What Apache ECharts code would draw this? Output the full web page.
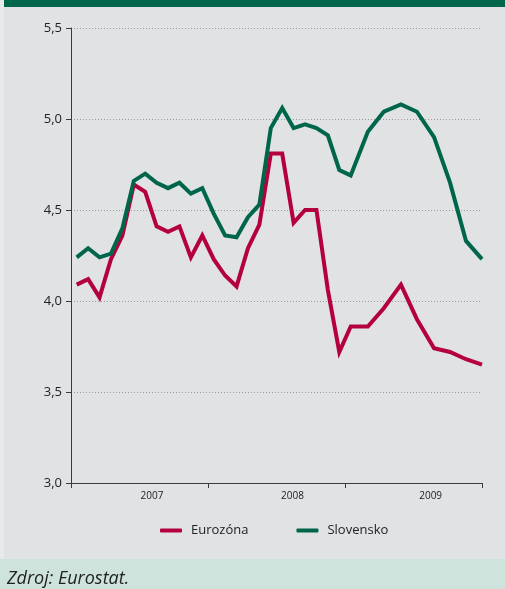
<!DOCTYPE html>
<html>
<head>
<meta charset="utf-8">
<script src="https://cdn.jsdelivr.net/npm/echarts@6/dist/echarts.min.js"></script>
<style>
html, body { margin: 0; padding: 0; background: #e1e2e4; }
#chart { width: 505px; height: 589px; }
</style>
</head>
<body>
<div id="chart"></div>
<script>
var years = ['2007', '2008', '2009'];
var yTicks = [3.0, 3.5, 4.0, 4.5, 5.0, 5.5];
// position of each value in months from Jan 2007 (2009 points are spread wider)
var months = [0.5, 1.5, 2.5, 3.5, 4.5, 5.5, 6.5, 7.5, 8.5, 9.5, 10.5, 11.5,
  12.5, 13.5, 14.5, 15.5, 16.5, 17.5, 18.5, 19.5, 20.5, 21.5, 22.5, 23.5,
  24.5, 26.0, 27.4, 28.9, 30.3, 31.8, 33.2, 34.6, 36.0];
var eurozone = [4.09, 4.12, 4.02, 4.23, 4.36, 4.64, 4.60, 4.41, 4.38, 4.41, 4.24, 4.36,
  4.23, 4.14, 4.08, 4.29, 4.42, 4.81, 4.81, 4.43, 4.50, 4.50, 4.06, 3.72,
  3.86, 3.86, 3.96, 4.09, 3.90, 3.74, 3.72, 3.68, 3.65];
var slovakia = [4.24, 4.29, 4.24, 4.26, 4.40, 4.66, 4.70, 4.65, 4.62, 4.65, 4.59, 4.62,
  4.48, 4.36, 4.35, 4.46, 4.53, 4.95, 5.06, 4.95, 4.97, 4.95, 4.91, 4.72,
  4.69, 4.93, 5.04, 5.08, 5.04, 4.90, 4.65, 4.33, 4.23];

var chartDom = document.getElementById('chart');
var myChart = echarts.init(chartDom);

function pairs(values) {
  return months.map(function (m, i) { return [m, values[i]]; });
}

var axisColor = '#3a3a3a';
var font = '"Open Sans", "Noto Sans", sans-serif';

var option = {
  animation: false,
  backgroundColor: '#e1e2e4',
  grid: { left: 71, right: 23, top: 28, bottom: 106 },
  legend: {
    left: 160,
    top: 524,
    padding: 0,
    itemGap: 48,
    itemWidth: 22,
    itemHeight: 4,
    icon: 'roundRect',
    textStyle: { fontFamily: font, fontSize: 13, color: '#222', padding: [0, 0, 0, 4] },
    data: ['Eurozóna', 'Slovensko']
  },
  xAxis: {
    type: 'value',
    min: 0,
    max: 36,
    axisLine: { show: true, lineStyle: { color: axisColor, width: 1 } },
    axisTick: { show: true, length: 5, customValues: [0, 12, 24, 36], lineStyle: { color: axisColor } },
    axisLabel: {
      customValues: [7.1, 19.4, 31.5],
      formatter: function (v) { return years[Math.floor(v / 12)]; },
      fontFamily: font, fontSize: 10, color: '#222', margin: 8
    },
    splitLine: { show: false }
  },
  yAxis: {
    type: 'value',
    min: yTicks[0],
    max: yTicks[yTicks.length - 1],
    interval: 0.5,
    axisLine: { show: true, lineStyle: { color: axisColor, width: 1 } },
    axisTick: { show: true, length: 5, lineStyle: { color: axisColor } },
    axisLabel: {
      formatter: function (v) { return v.toFixed(1).replace('.', ','); },
      fontFamily: font, fontSize: 13, color: '#222', margin: 9
    },
    splitLine: { show: true, lineStyle: { color: '#9a9a9a', type: [1, 2], width: 1 } }
  },
  graphic: [
    { type: 'rect', left: 0, top: 0, shape: { width: 4, height: 559 }, style: { fill: '#e8e9ea' } },
    { type: 'rect', left: 4, top: 0, shape: { width: 501, height: 7 }, style: { fill: '#00664b' } },
    { type: 'rect', left: 0, top: 559, shape: { width: 505, height: 30 }, style: { fill: '#cde3dc' } },
    {
      type: 'text', left: 7, top: 570,
      style: { text: 'Zdroj: Eurostat.', fontFamily: font, fontStyle: 'italic', fontSize: 18, fill: '#222' }
    }
  ],
  series: [
    {
      name: 'Eurozóna',
      type: 'line',
      data: pairs(eurozone),
      symbol: 'none',
      color: '#b5003f',
      lineStyle: { width: 4, color: '#b5003f', join: 'miter' }
    },
    {
      name: 'Slovensko',
      type: 'line',
      data: pairs(slovakia),
      symbol: 'none',
      color: '#00664b',
      lineStyle: { width: 4, color: '#00664b', join: 'miter' }
    }
  ]
};

option && myChart.setOption(option);
</script>
</body>
</html>
